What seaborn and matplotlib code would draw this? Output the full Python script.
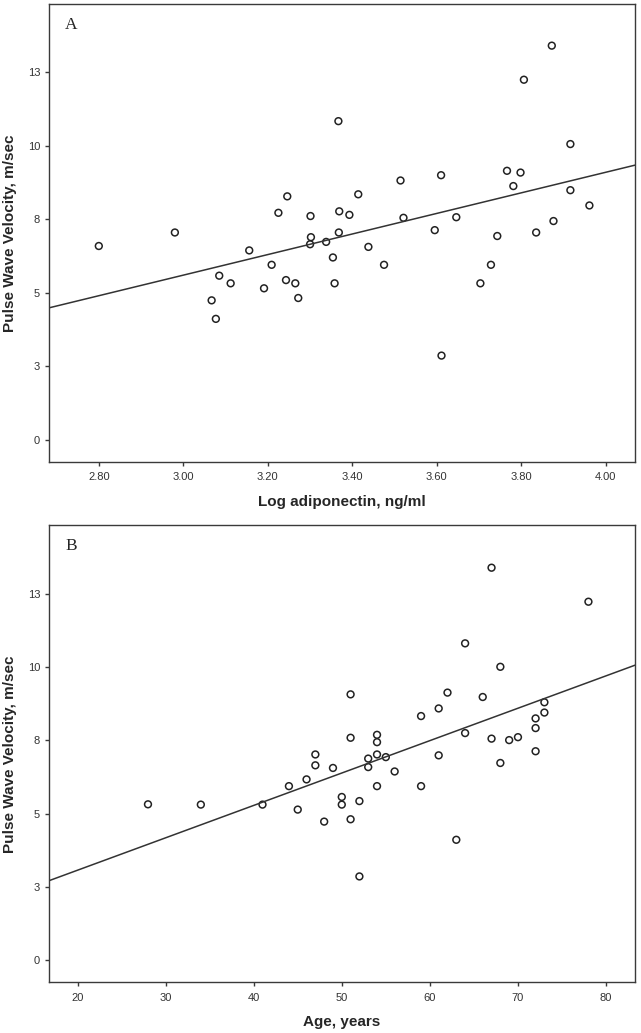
import numpy as np
import pandas as pd
import seaborn as sns
import matplotlib.pyplot as plt

# values
log_adiponectin = [2.80, 2.98, 3.156, 3.225, 3.246, 3.301, 3.302, 3.30, 3.338, 3.354,
                   3.367, 3.369, 3.368, 3.393, 3.414, 3.438, 3.514, 3.521, 3.61, 3.595,
                   3.646, 3.743, 3.766, 3.798, 3.781, 3.806, 3.872, 3.916, 3.916, 3.876,
                   3.835, 3.961, 3.085, 3.112, 3.067, 3.077, 3.209, 3.191, 3.243, 3.265,
                   3.272, 3.358, 3.475, 3.611, 3.703, 3.728]
pwv_a = [6.59, 7.05, 6.44, 7.72, 8.28, 7.61, 6.89, 6.65, 6.73, 6.20,
         10.84, 7.77, 7.05, 7.65, 8.35, 6.56, 8.82, 7.55, 9.00, 7.13,
         7.57, 6.93, 9.15, 9.09, 8.63, 12.25, 13.41, 10.06, 8.49, 7.44,
         7.05, 7.97, 5.58, 5.32, 4.74, 4.11, 5.95, 5.15, 5.43, 5.32,
         4.82, 5.32, 5.95, 2.86, 5.32, 5.95]

age = [67, 78, 64, 68, 51, 62, 66, 61, 59, 73, 73, 72, 72, 72, 64, 67, 69, 70, 51, 54,
       54, 47, 54, 61, 53, 55, 47, 49, 53, 56, 68, 46, 44, 54, 59, 50, 50, 52, 41, 28,
       34, 45, 48, 51, 63, 52]
pwv_b = [13.39, 12.23, 10.81, 10.01, 9.07, 9.13, 8.98, 8.59, 8.33, 8.80,
         8.45, 8.25, 7.92, 7.13, 7.75, 7.56, 7.51, 7.61, 7.59, 7.69,
         7.44, 7.02, 7.02, 6.99, 6.88, 6.93, 6.65, 6.56, 6.59, 6.44,
         6.73, 6.17, 5.94, 5.94, 5.94, 5.57, 5.31, 5.43, 5.31, 5.32,
         5.31, 5.14, 4.73, 4.81, 4.11, 2.86]

y_ticks = [0, 2.5, 5, 7.5, 10, 12.5]
y_tick_labels = ['0', '3', '5', '8', '10', '13']
x_ticks_a = [2.8, 3.0, 3.2, 3.4, 3.6, 3.8, 4.0]
x_ticks_b = [20, 30, 40, 50, 60, 70, 80]

df_a = pd.DataFrame({'x': log_adiponectin, 'y': pwv_a})
df_b = pd.DataFrame({'x': age, 'y': pwv_b})

sns.set_style('white')
plt.rcParams['font.family'] = ['Liberation Sans', 'DejaVu Sans']

fig = plt.figure(figsize=(6.41, 10.33), dpi=100)
ax_a = fig.add_axes([0.0757, 0.5531, 0.915, 0.4431])
ax_b = fig.add_axes([0.0757, 0.0491, 0.915, 0.4422])

edge = '#3a3a3a'


def draw_panel(ax, df, xlim, xticks, xlabels, xlabel, letter):
    ax.set_xlim(*xlim)
    ax.set_ylim(-0.75, 14.83)
    # regression line across the whole axis
    sns.regplot(x='x', y='y', data=df, ax=ax, scatter=False, ci=None,
                truncate=False, color='#333333', line_kws={'lw': 1.1})
    sns.scatterplot(x='x', y='y', data=df, ax=ax, marker='o', s=24,
                    facecolor='none', edgecolor='#222222', linewidth=1.1)
    ax.set_xlim(*xlim)
    ax.set_ylim(-0.75, 14.83)
    ax.set_yticks(y_ticks)
    ax.set_yticklabels(y_tick_labels)
    ax.set_xticks(xticks)
    ax.set_xticklabels(xlabels)
    for s in ax.spines.values():
        s.set_visible(True)
        s.set_color(edge)
        s.set_linewidth(1.0)
    ax.tick_params(axis='both', which='major', direction='out', length=3,
                   width=1.0, color=edge, labelsize=8, labelcolor='#333333',
                   left=True, bottom=True, right=False, top=False)
    ax.tick_params(axis='x', pad=4.5)
    ax.tick_params(axis='y', pad=3)
    ax.set_xlabel(xlabel, fontsize=11, fontweight='bold', labelpad=9)
    ax.set_ylabel('Pulse Wave Velocity, m/sec', fontsize=11,
                  fontweight='bold', labelpad=8)
    ax.text(0.0285, 0.972, letter, transform=ax.transAxes, ha='left', va='top',
            fontsize=12.5, family=['Liberation Serif', 'DejaVu Serif'])


draw_panel(ax_a, df_a, (2.681, 4.069), x_ticks_a,
           [f'{v:.2f}' for v in x_ticks_a], 'Log adiponectin, ng/ml', 'A')
draw_panel(ax_b, df_b, (16.71, 83.29), x_ticks_b,
           [str(v) for v in x_ticks_b], 'Age, years', 'B')

fig.savefig('out.png', dpi=100)
